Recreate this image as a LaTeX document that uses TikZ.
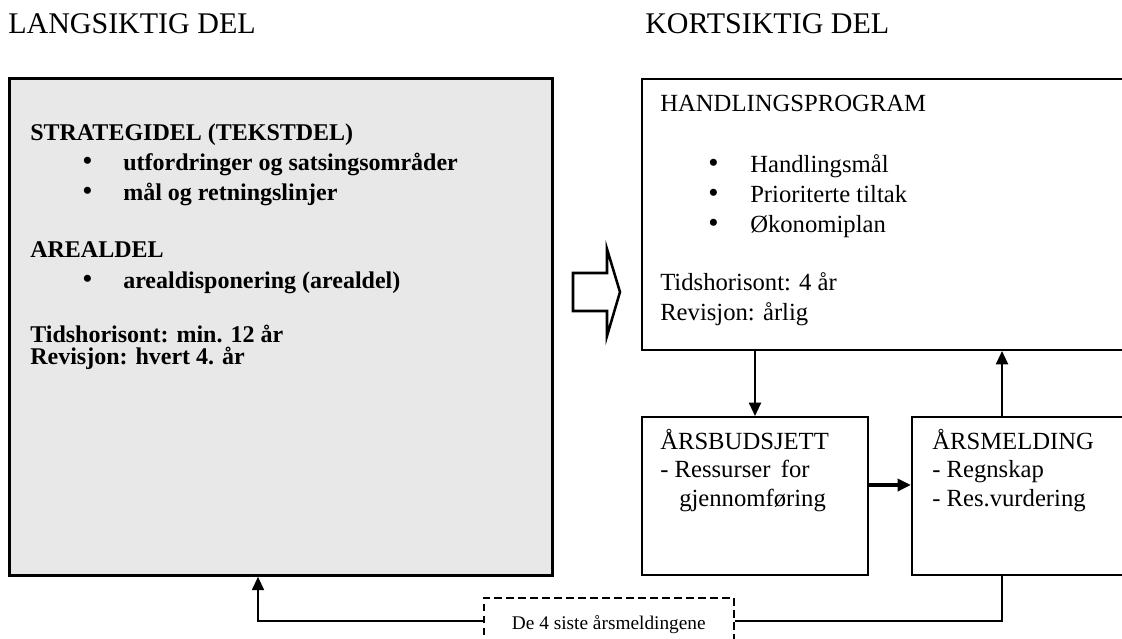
\documentclass[tikz,border=0pt]{standalone}
\usepackage{fontspec}
\setmainfont{Liberation Serif}
\usetikzlibrary{arrows.meta, positioning}

\begin{document}
\begin{tikzpicture}[
  x=0.75pt, y=-0.75pt,
  box/.style={draw, line width=1.5pt, anchor=north west, inner sep=0pt},
  greybox/.style={draw, line width=2.1pt, fill=black!9, anchor=north west, inner sep=0pt},
  notebox/.style={draw, dash pattern=on 5.5pt off 3.5pt, line width=1.2pt, inner sep=0pt, anchor=north west},
  title/.style={anchor=base west, inner sep=0pt, font=\fontsize{22.5}{27}\selectfont},
  txt/.style={anchor=base west, inner sep=0pt, font=\fontsize{18.5}{22.5}\selectfont},
  btxt/.style={anchor=base west, inner sep=0pt, font=\fontsize{18}{22.5}\selectfont\bfseries},
  dot/.style={anchor=base west, inner sep=0pt, font=\fontsize{22}{22.5}\selectfont},
  arr/.style={-{Triangle[length=10pt, width=9pt]}, line width=1.5pt}
]
  \clip (0,0) rectangle (1122,639);

  % headings
  \node[title] (lang-t) at (8,33)   {LANGSIKTIG DEL};
  \node[title] (kort-t) at (645,33) {KORTSIKTIG DEL};

  % boxes
  \node[greybox, minimum width=407.25pt, minimum height=372.75pt] (lang) at (8,77) {};
  \node[box, minimum width=389.25pt, minimum height=203.25pt] (hp)  at (641,78) {};
  \node[box, minimum width=169.5pt,  minimum height=118.5pt]  (bud) at (641,416) {};
  \node[box, minimum width=186.75pt, minimum height=118.5pt]  (mel) at (911,416) {};
  \node[notebox, minimum width=187.5pt, minimum height=34.5pt] (note) at (483,597) {};
  \node[font=\fontsize{14.5}{17}\selectfont, inner sep=0pt] (note-t) at ([yshift=-3pt]note.center) {De 4 siste årsmeldingene};

  % long term part
  \node[btxt] (strat) at (30,140) {STRATEGIDEL (TEKSTDEL)};
  \foreach \y/\t [count=\i] in {170/utfordringer og satsingsområder, 200/mål og retningslinjer} {
    \node[dot]  (sb\i) at (82,\y)  {•};
    \node[btxt] (si\i) at (123,\y) {\t};
  }
  \node[btxt] (areal) at (30,257) {AREALDEL};
  \node[dot]  (ab1) at (82,288)  {•};
  \node[btxt] (ai1) at (123,288) {arealdisponering (arealdel)};
  \node[btxt] (lt-hor) at (30,342) {Tidshorisont: min. 12 år};
  \node[btxt] (lt-rev) at (30,364) {Revisjon: hvert 4. år};

  % short term part
  \node[txt] (hp-t) at (660,111) {HANDLINGSPROGRAM};
  \foreach \y/\t [count=\i] in {172/Handlingsmål, 202/Prioriterte tiltak, 232/Økonomiplan} {
    \node[dot] (hb\i) at (708,\y) {•};
    \node[txt] (hi\i) at (750,\y) {\t};
  }
  \node[txt] (hp-hor) at (660,290) {Tidshorisont: 4 år};
  \node[txt] (hp-rev) at (660,320) {Revisjon: årlig};

  \node[txt] (bud-t)  at (660,449) {ÅRSBUDSJETT};
  \node[txt] (bud-1)  at (660,477) {- Ressurser\, for};
  \node[txt] (bud-2)  at (679,506) {gjennomføring};
  \node[txt] (mel-t)  at (932,449) {ÅRSMELDING};
  \node[txt] (mel-1)  at (932,477) {- Regnskap};
  \node[txt] (mel-2)  at (932,506) {- Res.vurdering};

  % big open arrow
  \draw[line width=1.9pt, line join=miter]
    (573,273) -- (607,273) -- (607,249) -- (620,292) -- (607,336)
    -- (607,311) -- (573,311) -- cycle;

  % connectors
  \coordinate (up)   at ([xshift=68.25pt]mel.north west);
  \coordinate (back) at ([xshift=187.5pt]lang.south west);
  \draw[arr] (hp.south -| bud.north) -- (bud.north);
  \draw[arr] (up |- mel.north) -- (up |- hp.south);
  \draw[arr, line width=2.6pt] ([yshift=8.25pt]bud.east) -- ([yshift=8.25pt]bud.east -| mel.west);
  \draw[line width=1.5pt] (up |- mel.south) |- (note.east);
  \draw[arr] (note.west) -| (back);
\end{tikzpicture}
\end{document}
